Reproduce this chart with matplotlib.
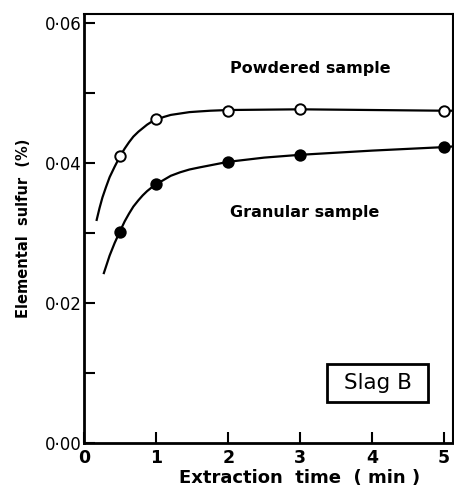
import matplotlib.pyplot as plt
from matplotlib.patches import Rectangle

# measured points
time_pts = [0.5, 1, 2, 3, 5]
powdered = [0.0411, 0.0463, 0.0475, 0.0477, 0.0474]
granular = [0.0302, 0.0370, 0.0402, 0.0412, 0.0423]

# hand drawn curves
pow_curve_x = [0.17, 0.21, 0.25, 0.3, 0.35, 0.42, 0.5, 0.56, 0.62, 0.68, 0.75, 0.81, 0.87, 0.93, 1.0,
               1.1, 1.2, 1.33, 1.46, 1.6, 1.75, 2.0, 3.0, 4.0, 5.0, 5.13]
pow_curve_y = [0.0319, 0.0336, 0.0351, 0.0366, 0.0380, 0.0395, 0.0411, 0.0421, 0.0430, 0.0438, 0.0445,
               0.0450, 0.0455, 0.0459, 0.0462, 0.0466, 0.0469, 0.0471, 0.0473, 0.0474, 0.0475, 0.0476,
               0.0477, 0.0476, 0.0475, 0.0475]
gran_curve_x = [0.27, 0.35, 0.42, 0.5, 0.56, 0.62, 0.68, 0.75, 0.81, 0.87, 0.93, 1.0, 1.1, 1.2, 1.33,
                1.46, 1.6, 1.75, 2.0, 2.5, 3.0, 4.0, 5.0, 5.13]
gran_curve_y = [0.0243, 0.0268, 0.0286, 0.0304, 0.0317, 0.0328, 0.0338, 0.0347, 0.0354, 0.0360, 0.0365,
                0.0370, 0.0376, 0.0382, 0.0387, 0.0391, 0.0394, 0.0397, 0.0402, 0.0408, 0.0412, 0.0418,
                0.0423, 0.0424]

x_ticks = [0, 1, 2, 3, 4, 5]
y_ticks = [0.0, 0.01, 0.02, 0.03, 0.04, 0.05, 0.06]
y_ticklabels = ['0·00', '', '0·02', '', '0·04', '', '0·06']

fig = plt.figure(figsize=(4.54, 4.88), dpi=100)
ax = fig.add_axes([0.186, 0.092, 0.812, 0.879])

ax.plot(pow_curve_x, pow_curve_y, color='black', lw=1.6, zorder=2)
ax.plot(gran_curve_x, gran_curve_y, color='black', lw=1.6, zorder=2)
ax.plot(time_pts, powdered, 'o', ms=7.5, mfc='white', mec='black', mew=1.4, zorder=3)
ax.plot(time_pts, granular, 'o', ms=7.5, mfc='black', mec='black', mew=1.4, zorder=3)

ax.set_xlim(0, 5.125)
ax.set_ylim(0, 0.0613)
ax.set_xticks(x_ticks)
ax.set_xticklabels([str(t) for t in x_ticks], fontsize=12.5, fontweight='bold')
ax.set_yticks(y_ticks)
ax.set_yticklabels(y_ticklabels, fontsize=12)
ax.tick_params(direction='in', length=8, width=1.5, pad=2)
ax.tick_params(axis='x', pad=4)

for side in ['left', 'bottom']:
    ax.spines[side].set_linewidth(2)
for side in ['top', 'right']:
    ax.spines[side].set_linewidth(1.5)

ax.set_ylabel('Elemental  sulfur  (%)', fontsize=10.5, fontweight='bold', labelpad=10)
fig.text(300 / 454, 5 / 488, 'Extraction  time  ( min )', fontsize=13, fontweight='bold',
         ha='center', va='baseline')

ax.text(2.02, 0.0536, 'Powdered sample', fontsize=11.5, fontweight='bold', va='center', ha='left')
ax.text(2.02, 0.0330, 'Granular sample', fontsize=11.5, fontweight='bold', va='center', ha='left')

ax.add_patch(Rectangle((3.37, 0.00586), 1.41, 0.00543, fill=False, lw=2, edgecolor='black'))
ax.text(4.075, 0.00857, 'Slag B', fontsize=15.5, va='center', ha='center')

fig.savefig('out.png', dpi=100)
